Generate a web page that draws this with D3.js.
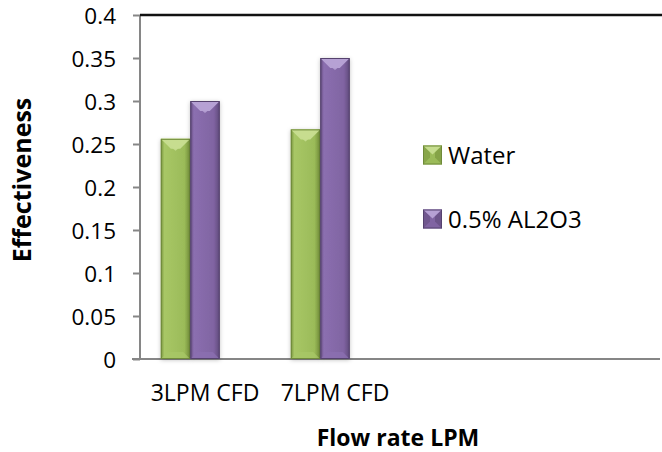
<!DOCTYPE html>
<html>
<head>
<meta charset="utf-8">
<script src="https://cdn.jsdelivr.net/npm/d3@7"></script>
<style>
  html, body { margin: 0; padding: 0; background: #fff; }
  svg text { font-family: "Open Sans", "Noto Sans", sans-serif; fill: #000; }
</style>
</head>
<body>
<div id="chart"></div>
<script>
// ── Data ─────────────────────────────────────────────
const categories = ['3LPM CFD', '7LPM CFD', '', ''];   // Excel kept two empty slots
const seriesNames = ['Water', '0.5% AL2O3'];
const waterValues = [0.256, 0.267, null, null];
const aluminaValues = [0.3, 0.35, null, null];
const yTicks = [0, 0.05, 0.1, 0.15, 0.2, 0.25, 0.3, 0.35, 0.4];

const W = 662, H = 452;
const plot = { left: 140, right: 660, top: 15, bottom: 359 };

const palette = {
    Water:        { base: '#9bbb59', light: '#c6dd8f', mid: '#a8c766', dark: '#76923c', edge: '#6f8a3a' },
    '0.5% AL2O3': { base: '#8064a2', light: '#b6a1d4', mid: '#8b6fb0', dark: '#5f497a', edge: '#55426e' }
};

const svg = d3.select('#chart').append('svg')
    .attr('width', W)
    .attr('height', H);

const defs = svg.append('defs');
const shadow = defs.append('filter')
    .attr('id', 'bar-shadow')
    .attr('x', '-30%').attr('y', '-10%')
    .attr('width', '160%').attr('height', '120%');
shadow.append('feDropShadow')
    .attr('dx', 0).attr('dy', 1)
    .attr('stdDeviation', 2)
    .attr('flood-color', '#000')
    .attr('flood-opacity', 0.25);

// horizontal body gradient per series
Object.values(palette).forEach((c, i) => {
    const g = defs.append('linearGradient')
        .attr('id', 'body-' + i)
        .attr('x1', '0%').attr('x2', '100%');
    g.append('stop').attr('offset', '0%').attr('stop-color', c.dark);
    g.append('stop').attr('offset', '12%').attr('stop-color', c.mid);
    g.append('stop').attr('offset', '80%').attr('stop-color', c.base);
    g.append('stop').attr('offset', '100%').attr('stop-color', c.dark);
});

// ── Scales ───────────────────────────────────────────
const x0 = d3.scaleBand()
    .domain(d3.range(categories.length))
    .range([plot.left, plot.right])
    .paddingInner(0.32)
    .paddingOuter(0.16);

// three slots per group: the third series of the original sheet is empty
const x1 = d3.scaleBand()
    .domain([0, 1, 2])
    .range([0, x0.bandwidth()]);

const y = d3.scaleLinear()
    .domain([0, 0.4])
    .range([plot.bottom, plot.top]);

// ── Axes ─────────────────────────────────────────────
const yAxis = svg.append('g')
    .attr('transform', `translate(${plot.left},0)`)
    .call(d3.axisLeft(y)
        .tickValues(yTicks)
        .tickSize(7)
        .tickPadding(17)
        .tickFormat(d => String(+d.toFixed(2))));
yAxis.selectAll('line, path').attr('stroke', '#868686').attr('stroke-width', 2);
yAxis.select('.domain').attr('d', `M0,${plot.top}V${plot.bottom}`);
yAxis.selectAll('text')
    .style('font-size', '22.5px')
    .attr('dy', '0.36em');

svg.append('line')
    .attr('x1', plot.left - 8).attr('x2', plot.right)
    .attr('y1', y(0)).attr('y2', y(0))
    .attr('stroke', '#868686')
    .attr('stroke-width', 2);

// top border
svg.append('line')
    .attr('x1', plot.left).attr('x2', W)
    .attr('y1', plot.top).attr('y2', plot.top)
    .attr('stroke', '#111')
    .attr('stroke-width', 2.5);

svg.append('g')
    .selectAll('text')
    .data(categories.map((c, i) => ({ c, i })).filter(d => d.c))
    .enter()
    .append('text')
    .attr('x', d => x0(d.i) + x0.bandwidth() / 2)
    .attr('y', 401)
    .attr('text-anchor', 'middle')
    .style('font-size', '23px')
    .text(d => d.c);

// axis titles
svg.append('text')
    .attr('transform', `translate(31,180) rotate(-90)`)
    .attr('text-anchor', 'middle')
    .style('font-size', '25px')
    .style('font-weight', 'bold')
    .text('Effectiveness');

svg.append('text')
    .attr('x', (plot.left + plot.right) / 2 - 2)
    .attr('y', 446)
    .attr('text-anchor', 'middle')
    .style('font-size', '23px')
    .style('font-weight', 'bold')
    .text('Flow rate LPM');

// ── Bars ─────────────────────────────────────────────
function bevelBar(g, x, yTop, w, h, c, gradId) {
    const b = Math.min(10, h / 2);
    const bb = Math.min(7, h / 2);
    const yb = yTop + h;
    g.append('rect')
        .attr('x', x).attr('y', yTop)
        .attr('width', w).attr('height', h)
        .attr('fill', `url(#${gradId})`)
        .style('filter', 'url(#bar-shadow)');
    // top bevel
    g.append('path')
        .attr('d', `M${x},${yTop}H${x + w}L${x + w - b},${yTop + b}H${x + b}Z`)
        .attr('fill', c.light);
    g.append('path')
        .attr('d', `M${x},${yTop}L${x + w / 2},${yTop + b + 2}L${x + w},${yTop}Z`)
        .attr('fill', c.light)
        .attr('opacity', 0.9);
    // bottom bevel
    g.append('path')
        .attr('d', `M${x},${yb}H${x + w}L${x + w - bb},${yb - bb}H${x + bb}Z`)
        .attr('fill', c.mid)
        .attr('opacity', 0.8);
    g.append('rect')
        .attr('x', x + 0.5).attr('y', yTop + 0.5)
        .attr('width', w - 1).attr('height', h - 1)
        .attr('fill', 'none')
        .attr('stroke', c.edge)
        .attr('stroke-width', 1);
}

const series = [waterValues, aluminaValues];
const barLayer = svg.append('g');
series.forEach((vals, s) => {
    const c = palette[seriesNames[s]];
    vals.forEach((v, i) => {
        if (v == null) return;
        const bx = x0(i) + x1(s);
        bevelBar(barLayer.append('g'), bx, y(v), x1.bandwidth(), y(0) - y(v), c, 'body-' + s);
    });
});

// ── Legend ───────────────────────────────────────────
const legendY = [155, 219];
const legend = svg.append('g');
seriesNames.forEach((name, s) => {
    const c = palette[name];
    const g = legend.append('g').attr('transform', `translate(423,${legendY[s] - 9.5})`);
    const sz = 19, b = 7;
    g.append('rect').attr('width', sz).attr('height', sz).attr('fill', c.base);
    g.append('path').attr('d', `M0,0H${sz}L${sz / 2},${b + 2}Z`).attr('fill', c.light);
    g.append('path').attr('d', `M0,0L${b},${b}V${sz - b}L0,${sz}Z`).attr('fill', c.dark).attr('opacity', 0.5);
    g.append('path').attr('d', `M${sz},0L${sz - b},${b}V${sz - b}L${sz},${sz}Z`).attr('fill', c.dark).attr('opacity', 0.6);
    g.append('rect').attr('x', 0.5).attr('y', 0.5).attr('width', sz - 1).attr('height', sz - 1)
        .attr('fill', 'none').attr('stroke', c.edge);
    legend.append('text')
        .attr('x', 448)
        .attr('y', legendY[s])
        .attr('dy', '0.36em')
        .style('font-size', '24px')
        .text(name);
});
</script>
</body>
</html>
